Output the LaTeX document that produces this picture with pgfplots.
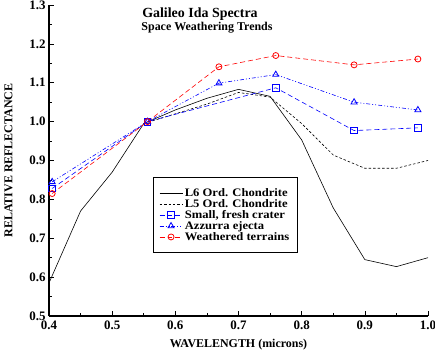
\documentclass[border=0pt]{standalone}
\usepackage{fontspec}
\setmainfont{Liberation Serif}
\newfontfamily\legfont[FakeStretch=1.1]{Liberation Serif}
\usepackage{pgfplots}
\pgfplotsset{compat=1.18}
\begin{document}
\begin{tikzpicture}
\begin{axis}[name=ax,
  scale only axis, width=379bp, height=311bp,
  xmin=0.4, xmax=1.0, ymin=0.5, ymax=1.3,
  axis x line*=bottom, axis y line*=left,
  axis line style={line width=1.3pt},
  xtick={0.4,0.5,...,1.0}, ytick={0.5,0.6,...,1.3},
  minor tick num=1,
  tick align=inside,
  major tick length=5bp, minor tick length=3bp,
  tick style={black, line width=0.6pt},
  /pgf/number format/assume math mode=true,
  /pgf/number format/fixed, /pgf/number format/fixed zerofill, /pgf/number format/precision=1,
  ticklabel style={font=\fontsize{13}{15}\selectfont\bfseries},
  xticklabel style={yshift=-1.5bp},
  xlabel={WAVELENGTH (microns)}, ylabel={RELATIVE REFLECTANCE},
  label style={font=\fontsize{12}{14}\selectfont\bfseries},
  xlabel style={yshift=-2.5bp},
  ylabel style={yshift=10bp},
  legend style={at={(0.274,0.447)}, anchor=north west, draw=black, line width=0.8pt,
    font=\legfont\fontsize{11.5}{12.5}\selectfont\bfseries, row sep=-2.5pt, inner xsep=6bp, inner ysep=9bp},
  legend cell align=left,
  legend image code/.code={\draw[mark repeat=2,mark phase=2,#1] plot coordinates {(0bp,0bp) (11.5bp,0bp) (23bp,0bp)};},
  legend image post style={line width=0.6pt},
]
\addplot[black, line width=0.6pt] coordinates {
(0.4,0.585) (0.45,0.77) (0.5,0.87) (0.55,0.995) (0.6,1.03) (0.65,1.06) (0.7,1.083) (0.75,1.065) (0.8,0.953) (0.85,0.778) (0.9,0.645) (0.95,0.627) (1.0,0.65)};
\addlegendentry{L6 Ord. Chondrite}
\addplot[black, line width=0.6pt, dash pattern=on 2.5pt off 2pt] coordinates {
(0.55,0.995) (0.6,1.02) (0.65,1.045) (0.7,1.075) (0.75,1.063) (0.8,0.995) (0.85,0.914) (0.9,0.88) (0.95,0.88) (1.0,0.90)};
\addlegendentry{L5 Ord. Chondrite}
\addplot[blue, line width=0.6pt, dash pattern=on 5pt off 3pt, mark=square, mark size=3.3bp, mark options={solid, line width=0.8pt}] coordinates {
(0.405,0.828) (0.556,1.0) (0.759,1.087) (0.883,0.977) (0.984,0.984)};
\addlegendentry{Small, fresh crater}
\addplot[blue, line width=0.6pt, dash pattern=on 4pt off 2pt on 1pt off 2pt on 1pt off 2pt, mark=triangle, mark size=3.5bp, mark options={solid, line width=0.8pt}] coordinates {
(0.405,0.845) (0.556,1.0) (0.669,1.099) (0.759,1.121) (0.883,1.050) (0.984,1.030)};
\addlegendentry{Azzurra ejecta}
\addplot[red, line width=0.6pt, dash pattern=on 5pt off 3pt, mark=o, mark size=3bp, mark options={solid, line width=0.8pt}] coordinates {
(0.405,0.815) (0.556,1.0) (0.669,1.141) (0.759,1.170) (0.883,1.146) (0.984,1.161)};
\addlegendentry{Weathered terrains}
\end{axis}
\node[font=\fontsize{14}{16}\selectfont\bfseries] at ([xshift=151bp,yshift=-9bp]ax.north west) {Galileo Ida Spectra};
\node[font=\fontsize{12}{13}\selectfont\bfseries] at ([xshift=158bp,yshift=-23bp]ax.north west) {Space Weathering Trends};
\pgfresetboundingbox
\path ([xshift=-49bp,yshift=-35bp]ax.south west) rectangle ([xshift=7bp,yshift=5bp]ax.north east);
\end{tikzpicture}
\end{document}
